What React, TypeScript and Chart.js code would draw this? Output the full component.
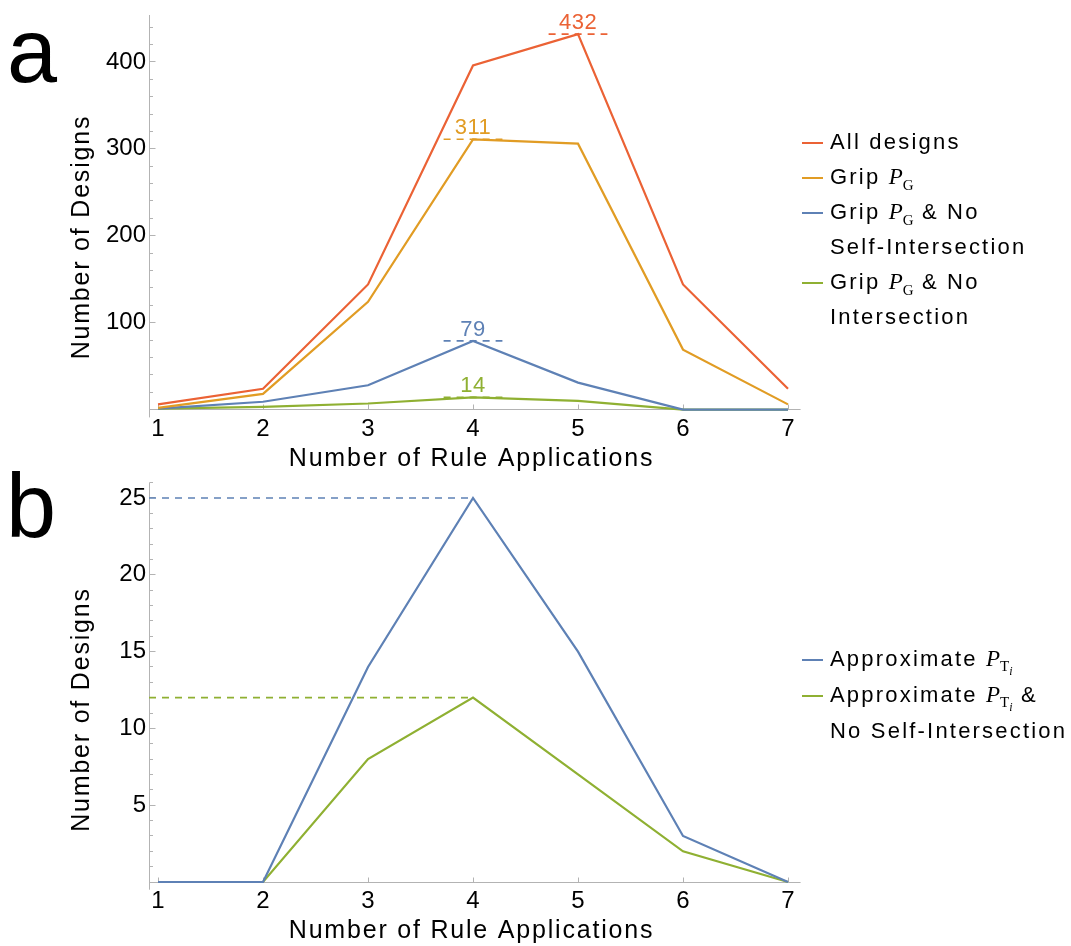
import React, { useEffect, useRef } from "react";
import { Chart, registerables } from "chart.js";

Chart.register(...registerables);

// ---------- data ----------
const RULE_APPLICATIONS = [1, 2, 3, 4, 5, 6, 7];

// panel a
const ALL_DESIGNS = [6, 24, 144, 396, 432, 144, 24];
const GRIP_PG = [2, 18, 124, 311, 306, 69, 6];
const GRIP_PG_NO_SELF_INTERSECTION = [1, 9, 28, 79, 31, 0, 0];
const GRIP_PG_NO_INTERSECTION = [1, 3, 7, 14, 10, 0, 0];

// panel b
const APPROX_PT = [0, 0, 14, 25, 15, 3, 0];
const APPROX_PT_NO_SELF_INTERSECTION = [0, 0, 8, 12, 7, 2, 0];

const TOP_Y_TICKS = [100, 200, 300, 400];
const BOTTOM_Y_TICKS = [5, 10, 15, 20, 25];

const TOP_LABELS = [
  ["All designs"],
  ["Grip {PG}"],
  ["Grip {PG} & No", "Self-Intersection"],
  ["Grip {PG} & No", "Intersection"],
];
const BOTTOM_LABELS = [
  ["Approximate {PTi}"],
  ["Approximate {PTi} &", "No Self-Intersection"],
];

const X_TITLE = "Number of Rule Applications";
const Y_TITLE = "Number of Designs";

// ---------- styling ----------
const W = 1071;
const H = 946;
const SANS = '"Liberation Sans", Arial, sans-serif';
const SERIF = '"Liberation Serif", "Times New Roman", serif';
const RED = "#EB6235";
const ORANGE = "#E19C24";
const BLUE = "#5E81B5";
const GREEN = "#8FB032";
const AXIS = "#b3b3b3";

const X_MIN = 0.914;
const X_MAX = 7.12;

type Guide = { dataset: number; kind: "label" | "axis"; half?: number };

// Mathematica-style axes crossing at y = 0, peak guides, titles and panel letter
const mmaAxes = {
  id: "mmaAxes",
  beforeDatasetsDraw(chart: any, _args: any, opts: any) {
    const { ctx, chartArea: ca, scales } = chart;
    const x = scales.x;
    const y = scales.y;
    const snap = (v: number) => Math.round(v - 0.5) + 0.5;
    const y0 = snap(y.getPixelForValue(0));
    const xl = snap(ca.left);
    ctx.save();
    ctx.strokeStyle = AXIS;
    ctx.lineWidth = 1;
    ctx.beginPath();
    ctx.moveTo(xl, y0);
    ctx.lineTo(ca.right, y0);
    ctx.moveTo(xl, ca.top);
    ctx.lineTo(xl, ca.bottom);
    const step = opts.yMinor;
    for (let k = Math.ceil(y.min / step); k * step <= y.max; k++) {
      const v = k * step;
      if (Math.abs(v) < 1e-9) continue;
      const r = v / opts.yMajor;
      const major = Math.abs(r - Math.round(r)) < 1e-9;
      const py = snap(y.getPixelForValue(v));
      ctx.moveTo(xl, py);
      ctx.lineTo(xl + (major ? 6 : 3.5), py);
    }
    for (const v of RULE_APPLICATIONS) {
      const px = snap(x.getPixelForValue(v));
      ctx.moveTo(px, y0);
      ctx.lineTo(px, y0 - 5);
    }
    ctx.stroke();
    ctx.restore();
  },
  afterDatasetsDraw(chart: any, _args: any, opts: any) {
    const { ctx, chartArea: ca, scales } = chart;
    const x = scales.x;
    const y = scales.y;
    ctx.save();
    for (const g of opts.guides as Guide[]) {
      const ds = chart.data.datasets[g.dataset];
      const vals = ds.data.map((p: any) => p.y);
      const peak = Math.max(...vals);
      const i = vals.indexOf(peak);
      const xv = RULE_APPLICATIONS[i];
      const py = y.getPixelForValue(peak);
      const x1 = g.kind === "axis" ? ca.left : x.getPixelForValue(xv - (g.half || 0));
      const x2 = x.getPixelForValue(xv + (g.kind === "axis" ? 0 : g.half || 0));
      ctx.setLineDash([7, 6]);
      ctx.strokeStyle = ds.borderColor;
      ctx.lineWidth = 1.6;
      ctx.beginPath();
      ctx.moveTo(x1, py);
      ctx.lineTo(x2, py);
      ctx.stroke();
      if (g.kind === "label") {
        ctx.setLineDash([]);
        ctx.fillStyle = ds.borderColor;
        ctx.font = `22px ${SANS}`;
        (ctx as any).letterSpacing = "0.5px";
        ctx.textAlign = "center";
        ctx.textBaseline = "alphabetic";
        ctx.fillText(String(peak), x.getPixelForValue(xv), py - 5);
      }
    }
    ctx.restore();
  },
  afterDraw(chart: any, _args: any, opts: any) {
    const { ctx, scales } = chart;
    const y0 = scales.y.getPixelForValue(0);
    ctx.save();
    ctx.fillStyle = "#000";
    ctx.font = `25px ${SANS}`;
    (ctx as any).letterSpacing = "1.8px";
    ctx.textBaseline = "alphabetic";
    ctx.textAlign = "center";
    ctx.fillText(X_TITLE, 471.5, y0 + 56);
    ctx.translate(88.5, y0 - 171.5);
    ctx.rotate(-Math.PI / 2);
    ctx.fillText(Y_TITLE, 1, 0);
    ctx.restore();

    ctx.save();
    ctx.fillStyle = "#000";
    ctx.font = `90px ${SANS}`;
    ctx.textAlign = "left";
    ctx.textBaseline = "alphabetic";
    ctx.fillText(opts.panel, opts.panelX, opts.panelY);
    ctx.restore();
  },
};

type Series = { label: string; data: number[]; color: string };

function makeConfig(o: {
  series: Series[];
  yMin: number;
  yMax: number;
  yTicks: number[];
  yMinor: number;
  yMajor: number;
  padTop: number;
  padBottom: number;
  xTickPad: number;
  guides: Guide[];
  panel: string;
  panelX: number;
  panelY: number;
}): any {
  const tickFont = { family: SANS, size: 24, lineHeight: 1 };
  return {
    type: "line",
    data: {
      datasets: o.series.map((s) => ({
        label: s.label,
        data: RULE_APPLICATIONS.map((xv, i) => ({ x: xv, y: s.data[i] })),
        borderColor: s.color,
        backgroundColor: s.color,
        borderWidth: 2.2,
        pointRadius: 0,
        tension: 0,
        fill: false,
      })),
    },
    options: {
      responsive: false,
      animation: false,
      devicePixelRatio: 1,
      events: [],
      layout: { padding: { left: 60, right: W - 800.6, top: o.padTop, bottom: o.padBottom } },
      plugins: {
        legend: { display: false },
        tooltip: { enabled: false },
        mmaAxes: {
          yMinor: o.yMinor,
          yMajor: o.yMajor,
          guides: o.guides,
          panel: o.panel,
          panelX: o.panelX,
          panelY: o.panelY,
        },
      },
      scales: {
        x: {
          type: "linear",
          min: X_MIN,
          max: X_MAX,
          grid: { display: false, drawTicks: false },
          border: { display: false },
          afterBuildTicks: (s: any) => {
            s.ticks = RULE_APPLICATIONS.map((v) => ({ value: v }));
          },
          afterFit: (s: any) => {
            s.height = 40;
          },
          ticks: {
            font: tickFont,
            color: "#000",
            padding: o.xTickPad,
            maxRotation: 0,
            autoSkip: false,
            callback: (v: any) => String(v),
          },
        },
        y: {
          type: "linear",
          min: o.yMin,
          max: o.yMax,
          grid: { display: false, drawTicks: false },
          border: { display: false },
          afterBuildTicks: (s: any) => {
            s.ticks = o.yTicks.map((v) => ({ value: v }));
          },
          afterFit: (s: any) => {
            s.width = 89;
          },
          ticks: {
            font: tickFont,
            color: "#000",
            padding: 3,
            callback: (v: any) => String(v),
          },
        },
      },
    },
    plugins: [mmaAxes],
  };
}

// ---------- legend ----------
const MathPG = () => (
  <span style={{ letterSpacing: 0 }}>
    <span style={{ fontFamily: SERIF, fontStyle: "italic", fontSize: 23 }}>P</span>
    <span style={{ fontFamily: SERIF, fontSize: 15, position: "relative", top: 6, lineHeight: 0 }}>G</span>
  </span>
);

const MathPTi = () => (
  <span style={{ letterSpacing: 0 }}>
    <span style={{ fontFamily: SERIF, fontStyle: "italic", fontSize: 23 }}>P</span>
    <span style={{ fontFamily: SERIF, fontSize: 15, position: "relative", top: 5, lineHeight: 0 }}>T</span>
    <span
      style={{ fontFamily: SERIF, fontStyle: "italic", fontSize: 12, position: "relative", top: 9, lineHeight: 0 }}
    >
      i
    </span>
  </span>
);

function renderLine(text: string) {
  const parts = text.split(/(\{PG\}|\{PTi\})/);
  return parts.map((p, k) => {
    if (p === "{PG}") return <MathPG key={k} />;
    if (p === "{PTi}") return <MathPTi key={k} />;
    return <span key={k}>{p}</span>;
  });
}

function Legend(props: { top: number; lineHeight: number; labels: string[][]; colors: string[] }) {
  const { top, lineHeight, labels, colors } = props;
  return (
    <div
      style={{
        position: "absolute",
        left: 802,
        top,
        fontFamily: SANS,
        fontSize: 22,
        letterSpacing: "2.2px",
        color: "#000",
        lineHeight: `${lineHeight}px`,
        whiteSpace: "nowrap",
      }}
    >
      {labels.map((lines, i) => (
        <div key={i} style={{ display: "flex", alignItems: "flex-start" }}>
          <div
            style={{
              width: 21,
              height: 2,
              background: colors[i],
              marginTop: lineHeight / 2 + 0.5,
              marginRight: 7,
              flex: "none",
            }}
          />
          <div>
            {lines.map((ln, j) => (
              <div key={j}>{renderLine(ln)}</div>
            ))}
          </div>
        </div>
      ))}
    </div>
  );
}

const plain = (lines: string[]) => lines.join(" ").replace("{PG}", "P_G").replace("{PTi}", "P_Ti");

export default function App() {
  const topRef = useRef<HTMLCanvasElement>(null);
  const bottomRef = useRef<HTMLCanvasElement>(null);

  useEffect(() => {
    const top = new Chart(
      topRef.current as HTMLCanvasElement,
      makeConfig({
        series: [
          { label: plain(TOP_LABELS[0]), data: ALL_DESIGNS, color: RED },
          { label: plain(TOP_LABELS[1]), data: GRIP_PG, color: ORANGE },
          { label: plain(TOP_LABELS[2]), data: GRIP_PG_NO_SELF_INTERSECTION, color: BLUE },
          { label: plain(TOP_LABELS[3]), data: GRIP_PG_NO_INTERSECTION, color: GREEN },
        ],
        yMin: -9,
        yMax: 454,
        yTicks: TOP_Y_TICKS,
        yMinor: 20,
        yMajor: 100,
        padTop: 12.7,
        padBottom: H - 417.4 - 40,
        xTickPad: 0,
        guides: [
          { dataset: 0, kind: "label", half: 0.28 },
          { dataset: 1, kind: "label", half: 0.28 },
          { dataset: 2, kind: "label", half: 0.28 },
          { dataset: 3, kind: "label", half: 0.28 },
        ],
        panel: "a",
        panelX: 7,
        panelY: 82,
      })
    );
    const bottom = new Chart(
      bottomRef.current as HTMLCanvasElement,
      makeConfig({
        series: [
          { label: plain(BOTTOM_LABELS[0]), data: APPROX_PT, color: BLUE },
          { label: plain(BOTTOM_LABELS[1]), data: APPROX_PT_NO_SELF_INTERSECTION, color: GREEN },
        ],
        yMin: -0.5,
        yMax: 26,
        yTicks: BOTTOM_Y_TICKS,
        yMinor: 1,
        yMajor: 5,
        padTop: 482.6,
        padBottom: H - 889.7 - 40,
        xTickPad: 0,
        guides: [
          { dataset: 0, kind: "axis" },
          { dataset: 1, kind: "axis" },
        ],
        panel: "b",
        panelX: 6,
        panelY: 537,
      })
    );
    return () => {
      top.destroy();
      bottom.destroy();
    };
  }, []);

  return (
    <div
      style={{
        position: "absolute",
        left: 0,
        top: 0,
        width: W,
        height: H,
        background: "#fff",
        overflow: "hidden",
      }}
    >
      <canvas
        ref={topRef}
        width={W}
        height={H}
        style={{ position: "absolute", left: 0, top: 0, width: W, height: H }}
      />
      <canvas
        ref={bottomRef}
        width={W}
        height={H}
        style={{ position: "absolute", left: 0, top: 0, width: W, height: H }}
      />
      <Legend top={124} lineHeight={35} labels={TOP_LABELS} colors={[RED, ORANGE, BLUE, GREEN]} />
      <Legend top={640.8} lineHeight={36} labels={BOTTOM_LABELS} colors={[BLUE, GREEN]} />
    </div>
  );
}
